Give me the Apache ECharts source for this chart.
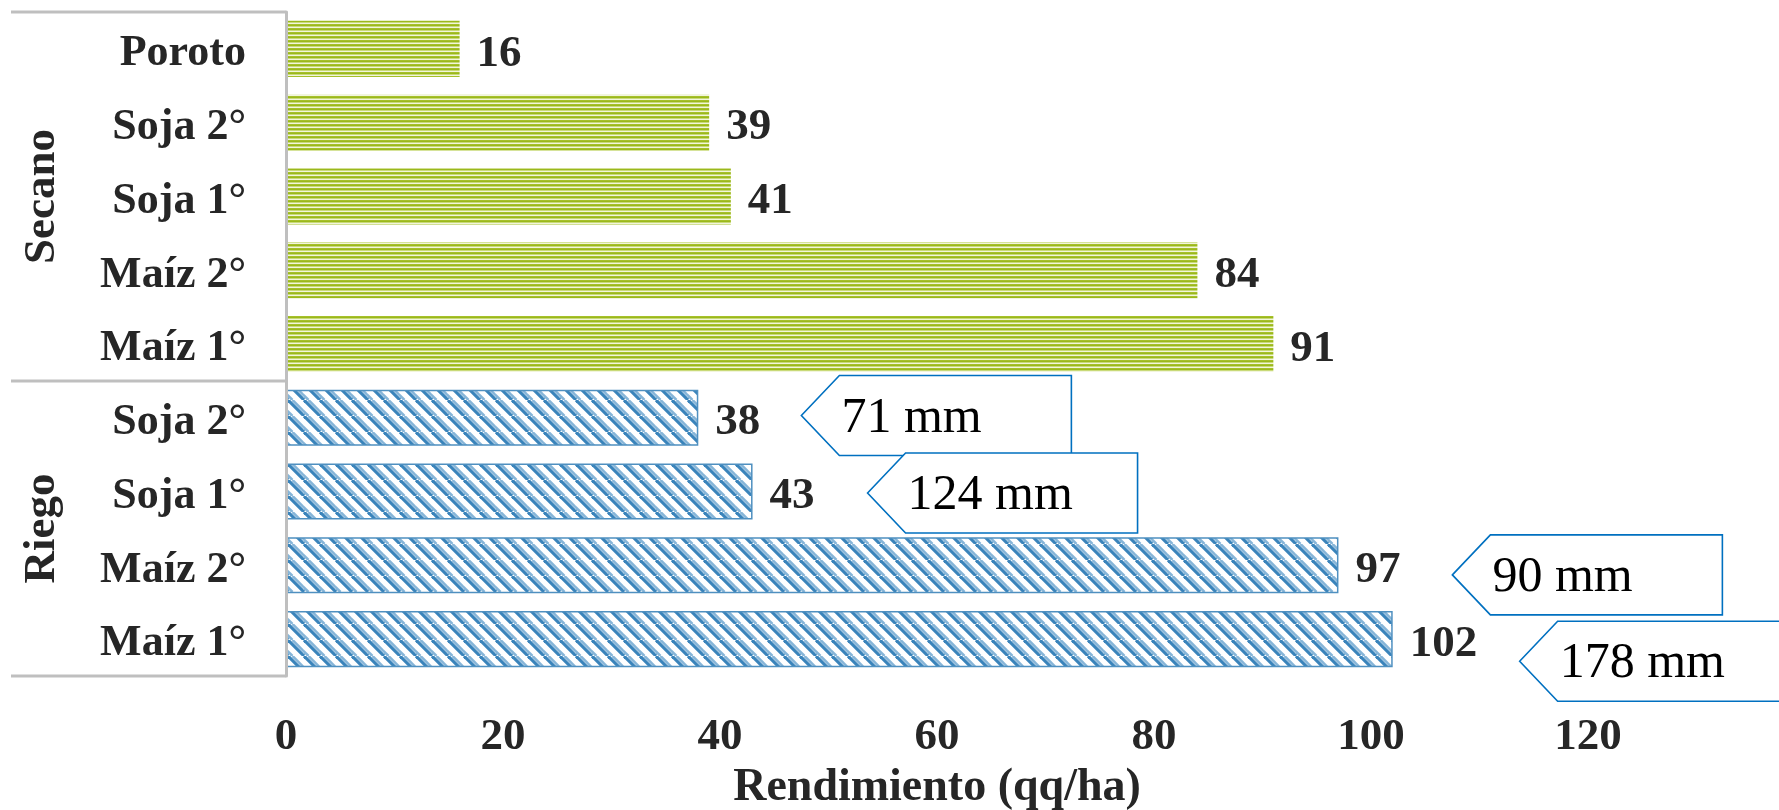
<!DOCTYPE html>
<html><head><meta charset="utf-8">
<script src="https://cdn.jsdelivr.net/npm/echarts@6/dist/echarts.min.js"></script>
<style>html,body{margin:0;padding:0;background:#fff}#c{width:1779px;height:810px}</style>
</head><body><div id="c"></div>
<script>
const cropLabels = ['Poroto','Soja 2°','Soja 1°','Maíz 2°','Maíz 1°','Soja 2°','Soja 1°','Maíz 2°','Maíz 1°'];
const groupNames = ['Secano','Riego'];
const groupSizes = [5,4];
const secanoValues = [16,39,41,84,91,null,null,null,null];
const riegoValues = [null,null,null,null,null,38,43,97,102];
const xTicks = [0,20,40,60,80,100,120];
const axisTitle = 'Rendimiento (qq/ha)';
const waterLabels = ['71 mm','124 mm','90 mm','178 mm'];
const waterRows = [5,6,7,8];
const waterTipX = [47.5,53.6,107.5,113.7];
const waterRowShift = [-0.03,0.02,0.13,0.3];

const FONT = "'Liberation Serif', 'DejaVu Serif', serif";
const TXT = '#262626';

function greenPattern(){
  const c = document.createElement('canvas'); c.width = 4; c.height = 4;
  const g = c.getContext('2d');
  g.fillStyle = '#a6c02a'; g.fillRect(0,0,4,1);
  g.fillStyle = '#9ab81c'; g.fillRect(0,1,4,1);
  g.fillStyle = '#c9da78'; g.fillRect(0,2,4,1);
  g.fillStyle = '#f1f5dc'; g.fillRect(0,3,4,1);
  return c;
}
function bluePattern(){
  const s = 16;
  const c = document.createElement('canvas'); c.width = s; c.height = s;
  const g = c.getContext('2d');
  g.fillStyle = '#ffffff'; g.fillRect(0,0,s,s);
  const draw = (off, col, w) => {
    g.strokeStyle = col; g.lineWidth = w;
    for (let k=-2;k<=2;k++){
      g.beginPath(); g.moveTo(k*s+off, 0); g.lineTo(k*s+off+s, s); g.stroke();
    }
  };
  draw(0, '#3a84bb', 3.2);
  draw(4.5, '#86b5d8', 2.6);
  return c;
}

const chart = echarts.init(document.getElementById('c'), null, {renderer:'canvas'});
const labelStyle = {show:true, position:'right', distance:17, offset:[0,5], fontSize:45, fontWeight:'bold', fontFamily:FONT, color:TXT};

chart.setOption({
  backgroundColor:'#ffffff',
  animation:false,
  grid:{left:286, right:191, top:12, bottom:134, containLabel:false, outerBoundsMode:'none'},
  xAxis:{
    type:'value', min:xTicks[0], max:xTicks[xTicks.length-1], interval:xTicks[1]-xTicks[0],
    axisLine:{show:false}, axisTick:{show:false}, splitLine:{show:false},
    axisLabel:{fontSize:45, fontWeight:'bold', fontFamily:FONT, color:TXT, margin:39},
    name:axisTitle, nameLocation:'middle', nameGap:87,
    nameTextStyle:{fontSize:46, fontWeight:'bold', fontFamily:FONT, color:TXT}
  },
  yAxis:{
    type:'category', inverse:true, z:5,
    data:cropLabels.map((_,i)=>String(i)),
    axisLine:{show:true, lineStyle:{color:'#bfbfbf', width:3}},
    axisTick:{show:false},
    axisLabel:{formatter:(v,i)=>'{c|' + cropLabels[i] + '}', margin:40,
      rich:{c:{fontSize:44, fontWeight:'bold', fontFamily:FONT, color:TXT, padding:[10,0,0,0]}}}
  },
  series:[
    {type:'bar', name:'Secano', data:secanoValues, barGap:'-100%', barCategoryGap:'24%',
     itemStyle:{color:{image:greenPattern(), repeat:'repeat'}}, label:labelStyle},
    {type:'bar', name:'Riego', data:riegoValues, barGap:'-100%', barCategoryGap:'24%',
     itemStyle:{color:{image:bluePattern(), repeat:'repeat'}, borderColor:'#4f90c0', borderWidth:1.5}, label:labelStyle},
    {type:'custom', name:'Lámina', clip:false, z:10,
     data:waterLabels.map((t,i)=>[waterTipX[i], waterRows[i], waterRowShift[i]]),
     renderItem:(params, api)=>{
       const i = params.dataIndex;
       const p = api.coord([api.value(0), api.value(1)]);
       const band = api.size([0,1])[1];
       const x = p[0], y = p[1] + api.value(2)*band;
       const H = 80, W = 270, D = 38;
       return {type:'group', children:[
         {type:'polygon', shape:{points:[[x,y],[x+D,y-H/2],[x+W,y-H/2],[x+W,y+H/2],[x+D,y+H/2]]},
          style:{fill:'#ffffff', stroke:'#0070c0', lineWidth:1.6}},
         {type:'text', style:{text:waterLabels[i], x:x+D+2, y:y+3, align:'left', verticalAlign:'middle',
          fontSize:50, fontFamily:FONT, fill:'#000000'}}
       ]};
     }}
  ]
});

// group brackets derived from the category scale
const yOf = i => chart.convertToPixel({yAxisIndex:0}, String(i));
const band = yOf(1) - yOf(0);
const x0 = chart.convertToPixel({xAxisIndex:0}, 0);
const graphics = [];
let start = 0;
const bounds = [yOf(0) - band/2];
groupNames.forEach((g, gi) => {
  const end = start + groupSizes[gi] - 1;
  const top = yOf(start) - band/2, bot = yOf(end) + band/2;
  bounds.push(bot);
  graphics.push({type:'text', x:42, y:(top+bot)/2, rotation:Math.PI/2,
    style:{text:g, align:'center', verticalAlign:'middle', fontSize:45, fontWeight:'bold', fontFamily:FONT, fill:TXT}});
  start = end + 1;
});
bounds.forEach(b => graphics.push({type:'line', shape:{x1:11, y1:b, x2:x0, y2:b},
  style:{stroke:'#bfbfbf', lineWidth:3}}));
chart.setOption({graphic:graphics});
</script></body></html>
